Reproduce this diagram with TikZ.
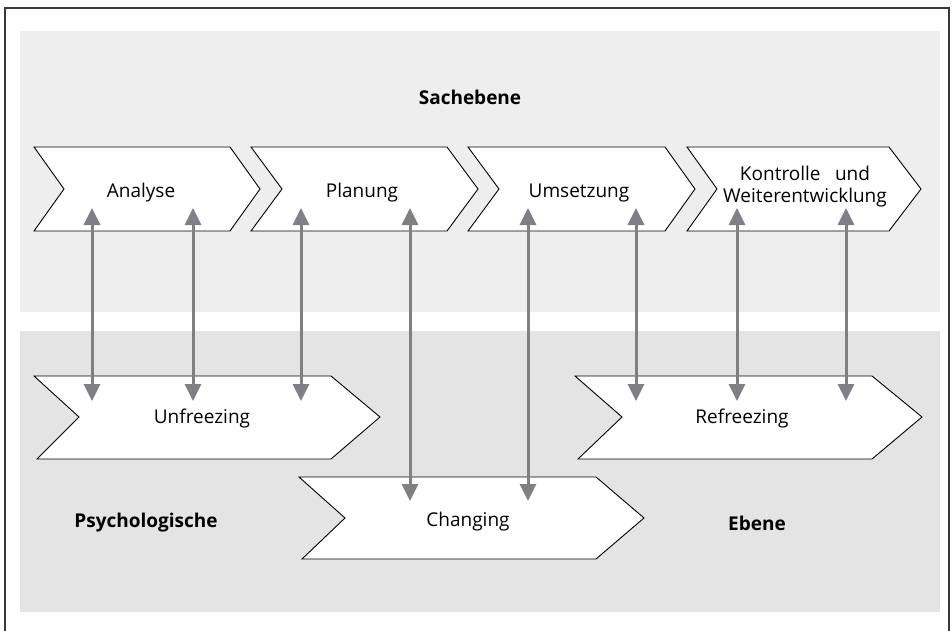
\documentclass[tikz,border=0pt]{standalone}
\usepackage{fontspec}
\setmainfont{Open Sans}
\usetikzlibrary{arrows.meta}
\definecolor{frameC}{HTML}{3A3A3A}
\definecolor{topP}{HTML}{EEEEEE}
\definecolor{botP}{HTML}{E4E4E4}
\definecolor{arrC}{HTML}{808084}
\tikzset{
  chev/.style={draw=black, line width=0.9pt, fill=white, line join=miter},
  lbl/.style={font=\fontsize{19}{24}\selectfont, align=center, inner sep=0pt},
  blbl/.style={font=\fontsize{19}{24}\selectfont\bfseries, inner sep=0pt},
  link/.style={draw=arrC, line width=3pt, {Triangle[width=16pt,length=17pt]}-{Triangle[width=16pt,length=17pt]}}
}
\begin{document}
\begin{tikzpicture}[x=1pt,y=-1pt]
\useasboundingbox (0,0) rectangle (952,631);
\fill[white] (0,0) rectangle (952,631);
% frame
\draw[frameC, line width=1.5pt] (5,632) -- (5,8) -- (949,8) -- (949,632);
% panels
\fill[topP] (20,31) rectangle (940,312);
\fill[botP] (20,331) rectangle (940,612);
% top chevrons
\draw[chev] (34,147) -- (230,147) -- (260,189) -- (230,231) -- (34,231) -- (64,189) -- cycle;
\draw[chev] (251,147) -- (447,147) -- (478,189) -- (447,231) -- (251,231) -- (282,189) -- cycle;
\draw[chev] (468,147) -- (665,147) -- (695,189) -- (665,231) -- (468,231) -- (499,189) -- cycle;
\draw[chev] (687,147) -- (889,147) -- (921,189) -- (889,231) -- (687,231) -- (717,189) -- cycle;
% bottom chevrons
\draw[chev] (34,376) -- (331,376) -- (380,417) -- (331,459) -- (37,459) -- (79,417) -- cycle;
\draw[chev] (299,477) -- (596,477) -- (644,518) -- (596,559) -- (302,559) -- (345,518) -- cycle;
\draw[chev] (575,376) -- (872,376) -- (922,417) -- (872,459) -- (578,459) -- (622,417) -- cycle;
% labels
\node[blbl] (sach) at (470,97) {Sachebene};
\node[lbl] (ana) at (141,193) {Analyse};
\node[lbl] (pla) at (362,193) {Planung};
\node[lbl] (ums) at (579,193) {Umsetzung};
\node[lbl] (kon) at (805,187) {Kontrolle\hspace{0.5em} und\\[-2pt]Weiterentwicklung};
\node[lbl] (unf) at (202,419) {Unfreezing};
\node[lbl] (cha) at (468,522) {Changing};
\node[lbl] (ref) at (742,419) {Refreezing};
\node[blbl] (psy) at (146,523) {Psychologische};
\node[blbl] (ebe) at (757,523) {Ebene};
% arrow end points
\foreach \n/\x/\yb in {a/92/401, b/193/401, c/301/401, d/410/501, e/528/501, f/636/401, g/737/401, h/846/401}{
  \coordinate (t\n) at (\x,208);
  \coordinate (b\n) at (\x,\yb);
}
\foreach \n in {a,b,c,d,e,f,g,h}{
  \draw[link] (t\n) -- (b\n);
}
\end{tikzpicture}
\end{document}
